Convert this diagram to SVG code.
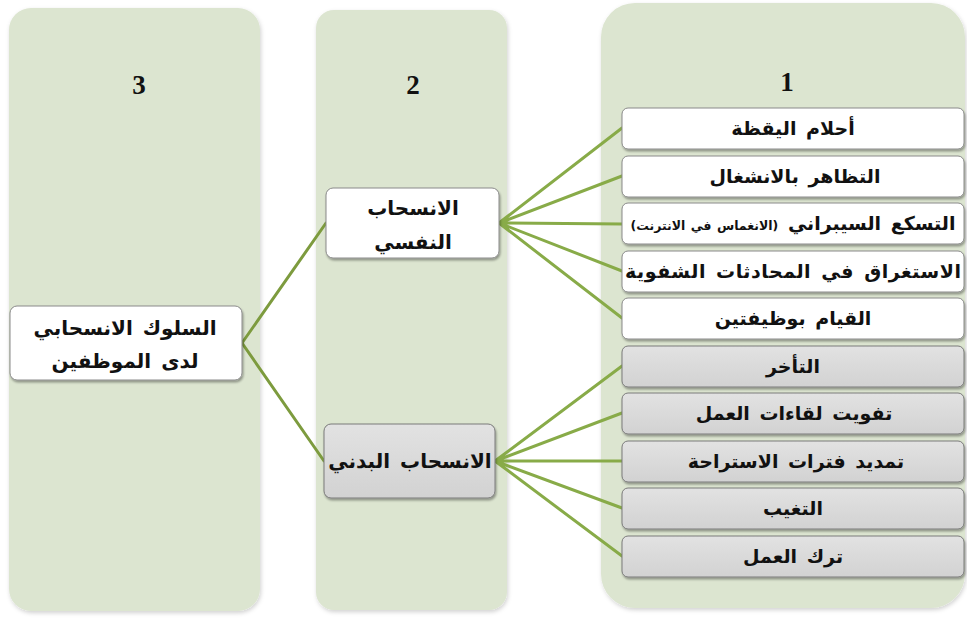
<svg xmlns="http://www.w3.org/2000/svg" width="967" height="619" viewBox="0 0 967 619">
  <defs>
    <filter id="panelShadow" x="-10%" y="-10%" width="120%" height="120%">
      <feDropShadow dx="1" dy="2" stdDeviation="2" flood-color="#000" flood-opacity="0.18"/>
    </filter>
    <filter id="boxShadow" x="-10%" y="-20%" width="120%" height="150%">
      <feDropShadow dx="1" dy="2" stdDeviation="1.2" flood-color="#000" flood-opacity="0.35"/>
    </filter>
    <linearGradient id="greyFill" x1="0" y1="0" x2="0" y2="1">
      <stop offset="0" stop-color="#e2e2e2"/>
      <stop offset="1" stop-color="#d2d2d2"/>
    </linearGradient>
  </defs>
  <style>
    .panel { fill: #dce5d0; filter: url(#panelShadow); }
    .box-w { fill: #ffffff; stroke: #8a8a8a; stroke-width: 1; filter: url(#boxShadow); }
    .box-g { fill: url(#greyFill); stroke: #7a7a7a; stroke-width: 1; filter: url(#boxShadow); }
    .num { font-family: "Liberation Serif", serif; font-weight: bold; font-size: 27px; fill: #111; text-anchor: middle; }
    .lbl { font-family: "DejaVu Sans", "Liberation Sans", sans-serif; font-weight: bold; font-size: 19px; word-spacing: 3px; fill: #111; text-anchor: middle; direction: rtl; }
    .node { font-size: 20px; }
    .small { font-size: 12.5px; word-spacing: 1px; }
    .conn { stroke: #7d9b3e; stroke-width: 3; fill: none; stroke-linecap: round; }
    .conn2 { stroke: #88ab48; stroke-width: 3; fill: none; stroke-linecap: round; }
  </style>

  <!-- background -->
  <rect x="0" y="0" width="967" height="619" fill="#ffffff"/>

  <!-- column panels -->
  <g id="col3">
    <rect class="panel" x="9" y="8" width="251" height="603" rx="22"/>
    <text class="num" x="139" y="94">3</text>
  </g>
  <g id="col2">
    <rect class="panel" x="316" y="10" width="191" height="600" rx="18"/>
    <text class="num" x="413" y="94">2</text>
  </g>
  <g id="col1">
    <rect class="panel" x="601" y="3" width="364" height="605" rx="34" fill="#dfe7d4"/>
    <text class="num" x="787" y="91">1</text>
  </g>

  <!-- connectors -->
  <g id="connectors">
    <path class="conn" d="M242 343 L326 223 M242 343 L324 461"/>
    <path class="conn2" d="M499 223 L622 128 M499 223 L622 176 M499 223 L622 224 M499 223 L622 271 M499 223 L622 318"/>
    <path class="conn2" d="M495 461 L622 366 M495 461 L622 413 M495 461 L622 461 M495 461 L622 508 M495 461 L622 556"/>
  </g>

  <!-- level 3 -->
  <g id="node-root">
    <rect class="box-w" x="10" y="306" width="232" height="74" rx="7"/>
    <text class="lbl node" x="125" y="335">السلوك الانسحابي</text>
    <text class="lbl node" x="125" y="368">لدى الموظفين</text>
  </g>

  <!-- level 2 -->
  <g id="node-psych">
    <rect class="box-w" x="326" y="188" width="173" height="70" rx="7"/>
    <text class="lbl node" x="413" y="215">الانسحاب</text>
    <text class="lbl node" x="413" y="249">النفسي</text>
  </g>
  <g id="node-phys">
    <rect class="box-g" x="324" y="424" width="171" height="74" rx="7"/>
    <text class="lbl node" x="410" y="468">الانسحاب البدني</text>
  </g>

  <!-- level 1: psychological withdrawal -->
  <g id="item-1">
    <rect class="box-w" x="622" y="108" width="342" height="41" rx="6"/>
    <text class="lbl" x="793" y="135">أحلام اليقظة</text>
  </g>
  <g id="item-2">
    <rect class="box-w" x="622" y="156" width="342" height="41" rx="6"/>
    <text class="lbl" x="795" y="183">التظاهر بالانشغال</text>
  </g>
  <g id="item-3">
    <rect class="box-w" x="622" y="203" width="342" height="41" rx="6"/>
    <text class="lbl" x="793" y="230">التسكع السيبراني <tspan class="small">(الانغماس في الانترنت)</tspan></text>
  </g>
  <g id="item-4">
    <rect class="box-w" x="622" y="251" width="342" height="41" rx="6"/>
    <text class="lbl" x="793" y="278" textLength="336" lengthAdjust="spacing">الاستغراق في المحادثات الشفوية</text>
  </g>
  <g id="item-5">
    <rect class="box-w" x="622" y="298" width="342" height="41" rx="6"/>
    <text class="lbl" x="793" y="325">القيام بوظيفتين</text>
  </g>

  <!-- level 1: physical withdrawal -->
  <g id="item-6">
    <rect class="box-g" x="622" y="346" width="342" height="41" rx="6"/>
    <text class="lbl" x="793" y="373">التأخر</text>
  </g>
  <g id="item-7">
    <rect class="box-g" x="622" y="393" width="342" height="41" rx="6"/>
    <text class="lbl" x="794" y="420">تفويت لقاءات العمل</text>
  </g>
  <g id="item-8">
    <rect class="box-g" x="622" y="441" width="342" height="41" rx="6"/>
    <text class="lbl" x="796" y="468">تمديد فترات الاستراحة</text>
  </g>
  <g id="item-9">
    <rect class="box-g" x="622" y="488" width="342" height="41" rx="6"/>
    <text class="lbl" x="793" y="515">التغيب</text>
  </g>
  <g id="item-10">
    <rect class="box-g" x="622" y="536" width="342" height="41" rx="6"/>
    <text class="lbl" x="793" y="563">ترك العمل</text>
  </g>
</svg>
